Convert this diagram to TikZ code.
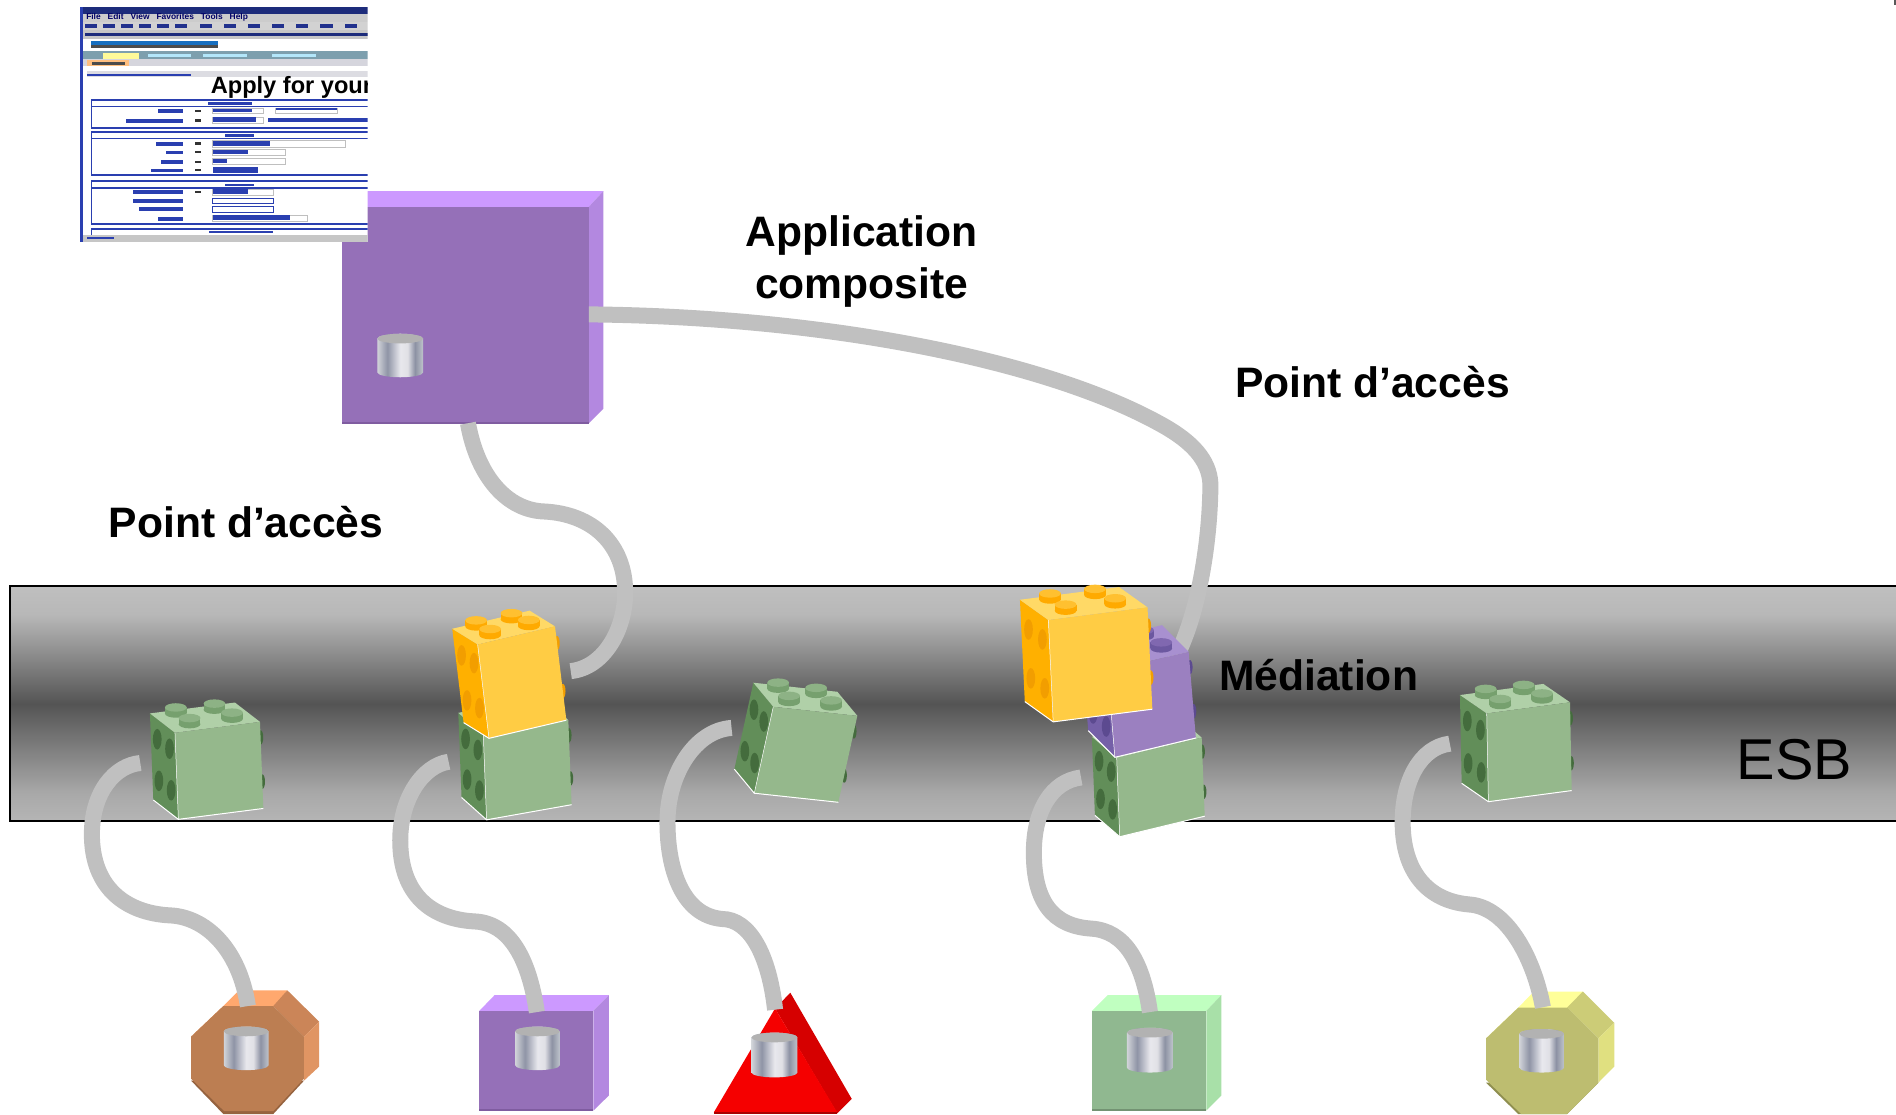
\documentclass[tikz,border=0pt]{standalone}
\usepackage{fontspec}
\setmainfont{Liberation Sans}
\usetikzlibrary{calc}
\pgfdeclareverticalshading{esbshade}{100bp}{rgb(0bp)=(.71,.71,.71); rgb(25bp)=(.71,.71,.71); rgb(31bp)=(.66,.66,.66); rgb(50bp)=(.33,.33,.33); rgb(62bp)=(.58,.58,.58); rgb(69bp)=(.72,.72,.72); rgb(75bp)=(.75,.75,.75); rgb(100bp)=(.75,.75,.75)}
\pgfdeclarehorizontalshading{cylshade}{100bp}{rgb(0bp)=(.82,.83,.85); rgb(25bp)=(.82,.83,.85); rgb(36bp)=(.56,.58,.65); rgb(50bp)=(.91,.91,.93); rgb(58bp)=(.88,.88,.90); rgb(66bp)=(.55,.57,.64); rgb(75bp)=(.75,.77,.80); rgb(100bp)=(.75,.77,.80)}
\definecolor{gfront}{HTML}{95B88C}\definecolor{gleft}{HTML}{628E59}\definecolor{gtop}{HTML}{B0D0A8}\definecolor{ghole}{HTML}{446C3D}\definecolor{gstud}{HTML}{8DB285}\definecolor{gside}{HTML}{76A06E}
\definecolor{yfront}{HTML}{FFCC44}\definecolor{yleft}{HTML}{FFB000}\definecolor{ytop}{HTML}{FFD966}\definecolor{yhole}{HTML}{F29E00}\definecolor{ystud}{HTML}{FFC030}\definecolor{yside}{HTML}{FFAA00}
\definecolor{pfront}{HTML}{9B80C0}\definecolor{pleft}{HTML}{7560A8}\definecolor{ptop}{HTML}{A890D0}\definecolor{phole}{HTML}{5C4A90}\definecolor{pstud}{HTML}{8068B0}\definecolor{pside}{HTML}{6C58A0}
\definecolor{linkgrey}{HTML}{C0C0C0}
\definecolor{webblue}{HTML}{2A3FB0}
\tikzset{
  link/.style={draw=linkgrey,line width=8pt,line cap=butt},
  boldlabel/.style={font=\fontsize{21.3}{26}\selectfont\bfseries,align=center,inner sep=0pt},
  esblabel/.style={font=\fontsize{28.8}{32}\selectfont,inner sep=0pt},
  webline/.style={draw=webblue,line width=.9pt},
  webbox/.style={draw=lightgray,fill=white,line width=.4pt},
}
% brick: colour prefix, F1, F2, F4, L1
\newcommand{\legobrick}[9]{%
  \coordinate (bA) at (#2,#3);
  \coordinate (bB) at (#4,#5);
  \coordinate (bD) at (#6,#7);
  \coordinate (bL) at (#8,#9);
  \coordinate (bU) at ($(bB)-(bA)$);
  \coordinate (bV) at ($(bD)-(bA)$);
  \coordinate (bW) at ($(bL)-(bA)$);
  \coordinate (bC) at ($(bB)+(bV)$);
  \coordinate (bM) at ($(bL)+(bV)$);
  \coordinate (bK) at ($(bB)+(bW)$);
  \foreach \t in {.18,.69}{\fill[#1hole] ($(bB)+\t*(bV)$) ellipse[x radius=2.2,y radius=6];}
  \fill[#1left] (bA)--(bD)--(bM)--(bL)--cycle;
  \foreach \a in {.25,.74}\foreach \b in {.24,.72}{\fill[#1hole] ($(bA)+\a*(bW)+\b*(bV)$) ellipse[x radius=3.6,y radius=8.5];}
  \fill[#1top] (bA)--(bB)--(bK)--(bL)--cycle;
  \foreach \a/\c in {.26/.85,.70/.80,.26/.30,.76/.30}{
    \coordinate (bS) at ($(bA)+\a*(bU)+\c*(bW)$);
    \fill[#1side] ($(bS)+(-9,0)$) rectangle ($(bS)+(9,-5)$);
    \fill[#1side] (bS) ellipse[x radius=9,y radius=3.5];
    \fill[#1stud] ($(bS)+(0,-5)$) ellipse[x radius=9,y radius=3.5];
  }
  \fill[#1front] (bA)--(bB)--(bC)--(bD)--cycle;
  \draw[white,line width=.25pt] (bA)--(bD);
  \draw[white,line width=.5pt] (bM)--(bD)--(bC);
}
\newcommand{\dbcyl}[4]{% centre x, top y, width, height
  \shade[shading=cylshade] ({#1-#3/2},{#2+4}) -- ({#1-#3/2},{#2+#4-4}) arc[start angle=180,end angle=0,x radius={#3/2},y radius=4] -- ({#1+#3/2},{#2+4}) arc[start angle=0,end angle=-180,x radius={#3/2},y radius=4] -- cycle;
  \shade[left color=gray!60,middle color=gray!22,right color=gray!60] (#1,{#2+4}) ellipse[x radius={#3/2},y radius=4];
}
\begin{document}
\begin{tikzpicture}[x=0.60459pt,y=-0.60459pt]
\useasboundingbox (0,0) rectangle (1568,921.3);
\clip (0,0) rectangle (1568,921.3);
\fill[white] (0,0) rectangle (1568,921.3);
\fill[gray!70!black] (1566.3,0) rectangle (1568,4);
% ESB bar
\shade[shading=esbshade] (8,485) rectangle (1568,679);
\draw[black,line width=1pt] (1568,485) -- (8,485) -- (8,679) -- (1568,679);
% anchor points
\coordinate (compR) at (487,260);
\coordinate (compB) at (387,350);
\coordinate (medA) at (968,552);
\coordinate (medB) at (472,555);
\coordinate (s1) at (116,631);\coordinate (t1) at (205,832);
\coordinate (s2) at (371,630);\coordinate (t2) at (444,837);
\coordinate (s3) at (605,602);\coordinate (t3) at (641,835);
\coordinate (s4) at (894,643);\coordinate (t4) at (951,837);
\coordinate (s5) at (1199,615);\coordinate (t5) at (1276,833);
% brown octagon
\definecolor{bfront}{HTML}{BC7E52}\definecolor{btop}{HTML}{FFA86E}\definecolor{bfacet}{HTML}{CB8558}\definecolor{bright}{HTML}{E09563}\definecolor{bdark}{HTML}{96633F}
\fill[btop] (158,857.3)--(184.7,832)--(197.6,819)--(237.6,819)--(226,834)--(184.7,834)--cycle;
\fill[bfacet] (226,832)--(237.6,819)--(264,845)--(251.4,857.3)--cycle;
\fill[bright] (251.4,857.3)--(264,845)--(264,882)--(251.4,893.7)--cycle;
\fill[bdark] (158,893.7)--(184.7,921.3)--(226,921.3)--(251.4,893.7)--cycle;
\fill[bfront] (184.7,832)--(226,832)--(251.4,857.3)--(251.4,892)--(226,919)--(185.5,919)--(158,892)--(158,857.3)--cycle;
% purple box small
\definecolor{vfront}{HTML}{9570B8}\definecolor{vtop}{HTML}{CC99FF}\definecolor{vright}{HTML}{B388E0}\definecolor{vdark}{HTML}{7F5CA0}
\fill[vtop] (396.4,836)--(409,823)--(503.5,823)--(490.7,836)--cycle;
\fill[vright] (490.7,836)--(503.5,823)--(503.5,906)--(490.7,918.5)--cycle;
\fill[vfront] (396.4,836) rectangle (490.7,918.5);
\fill[vdark] (396.4,917) rectangle (490.7,918.8);
% red triangle
\definecolor{rside}{HTML}{D60000}\definecolor{rfront}{HTML}{F50000}
\fill[rside] (641,834)--(653.6,821)--(704.4,908.8)--(692.4,920.8)--cycle;
\fill[rfront] (641,834)--(692.4,920)--(590.3,920)--cycle;
\fill[rside!80!black] (590.3,919.5) rectangle (692.4,921.3);
% green box
\definecolor{lgfront}{HTML}{90B890}\definecolor{lgtop}{HTML}{C0FFC0}\definecolor{lgright}{HTML}{A8E0A8}
\fill[lgtop] (903,836)--(916,823)--(1010,823)--(997.6,836)--cycle;
\fill[lgright] (997.6,836)--(1010,823)--(1010,906)--(997.6,918.5)--cycle;
\fill[lgfront] (903,836) rectangle (997.6,918.5);
\fill[lgfront!80!black] (903,917) rectangle (997.6,918.8);
% yellow octagon
\definecolor{ofront}{HTML}{BDBD70}\definecolor{otop}{HTML}{FFFF99}\definecolor{ofacet}{HTML}{CCCC77}\definecolor{oright}{HTML}{E0E080}\definecolor{odark}{HTML}{8F8F50}
\fill[otop] (1229,858.7)--(1255.6,833.3)--(1268.6,820)--(1309,820)--(1296,835)--(1255.6,835)--cycle;
\fill[ofacet] (1296,833.3)--(1309,820)--(1335,846)--(1321.8,858.7)--cycle;
\fill[oright] (1321.8,858.7)--(1335,846)--(1335,882)--(1321.8,895.4)--cycle;
\fill[odark] (1229,895.4)--(1255.6,921.3)--(1296,921.3)--(1321.8,895.4)--cycle;
\fill[ofront] (1255.6,833.3)--(1296,833.3)--(1321.8,858.7)--(1321.8,895.4)--(1296,921.3)--(1258,921.3)--(1229,893)--(1229,858.7)--cycle;
% main purple box
\fill[vtop] (283,171)--(304,158)--(499,158)--(487,171)--cycle;
\fill[vright] (487,171)--(499,158)--(499,338)--(487,350)--cycle;
\fill[vfront] (283,171) rectangle (487,350);
\fill[vdark] (283,349) rectangle (487,351);
% connectors
\draw[link] (t1) .. controls (198,785) and (170,758) .. (140,757) .. controls (105,755) and (76,735) .. (76,690) .. controls (76,655) and (95,633) .. (s1);
\draw[link] (t2) .. controls (437,790) and (420,763) .. (392,762) .. controls (357,760) and (331,740) .. (331,695) .. controls (331,660) and (350,633) .. (s2);
\draw[link] (t3) .. controls (636,790) and (620,760) .. (597,760) .. controls (565,757) and (552,720) .. (552,680) .. controls (552,640) and (575,604) .. (s3);
\draw[link] (t4) .. controls (945,795) and (930,770) .. (903,768) .. controls (870,766) and (855,745) .. (855,705) .. controls (855,670) and (870,646) .. (s4);
\draw[link] (t5) .. controls (1268,790) and (1245,750) .. (1215,748) .. controls (1180,745) and (1160,720) .. (1160,680) .. controls (1160,645) and (1175,618) .. (s5);
\draw[link] (compB) .. controls (395,395) and (420,422) .. (450,423) .. controls (490,425) and (517,450) .. (517,490) .. controls (517,520) and (500,552) .. (medB);
\draw[link] (compR) .. controls (690,262) and (870,300) .. (962,352) .. controls (985,365) and (1000,380) .. (1001,400) .. controls (1001,440) and (993,510) .. (medA);
% cylinders
\dbcyl{331}{276}{38}{36}
\dbcyl{203.6}{849}{37}{36}
\dbcyl{444.5}{849}{37}{36}
\dbcyl{640.5}{854}{38}{37}
\dbcyl{951}{850}{38}{37}
\dbcyl{1275}{851}{37}{36}
% bricks
\legobrick{g}{144.7}{606}{215}{597}{147.5}{677.6}{124}{590}
\legobrick{g}{399.7}{608}{470}{595.5}{402.4}{678}{379}{589.5}
\legobrick{y}{395}{533}{459}{518}{404.4}{610.6}{374}{520}
\legobrick{g}{639.5}{584.5}{709}{592}{623.8}{656}{623}{564.6}
\legobrick{g}{923.5}{627}{993.8}{610}{926}{692}{903}{609.3}
\legobrick{p}{916}{555}{983}{539}{922}{626.3}{894}{533}
\legobrick{y}{867}{512.8}{949}{502.3}{871}{597}{843.5}{496}
\legobrick{g}{1229.5}{590}{1298.4}{580.8}{1230.9}{663}{1207.4}{574.8}
% screenshot
\begin{scope}
\clip (66,6) rectangle (304,200);
\fill[white] (66,6) rectangle (304,200);
\fill[webblue!70!black] (66,6) rectangle (304,11.5);
\fill[gray!40] (66,11.5) rectangle (304,18);
\node[anchor=west,inner sep=0pt,font=\fontsize{4.2}{5}\selectfont\bfseries,text=blue!40!black] (menu) at (71,14.7) {File\ \ \ Edit\ \ \ View\ \ \ Favorites\ \ \ Tools\ \ \ Help};
\fill[gray!35] (66,18) rectangle (304,25);
\foreach \x in {70,85,100,115,130,145,165,185,205,225,245,265,285}{\fill[webblue!80!black] (\x,20) rectangle ({\x+10},23);}
\fill[gray!45] (66,25) rectangle (304,32.5);
\fill[webblue!70!black] (70,27.5) rectangle (304,30);
\fill[cyan!50!blue] (75,34) rectangle (180,37);
\fill[black!70] (75,37) rectangle (180,40);
\fill[gray!70!cyan] (68,42) rectangle (304,49);
\fill[yellow!40] (85,44) rectangle (115,49);
\foreach \x in {122,168,225}{\fill[white!70!cyan] (\x,45) rectangle ({\x+36},47);}
\fill[blue!10!gray!30] (68,49) rectangle (304,54.5);
\fill[orange!50] (72,50) rectangle (107,54.5);
\fill[black!70] (76,51) rectangle (103,53.5);
\fill[blue!10!gray!25] (72,59) rectangle (304,64);
\fill[webblue] (72,61.5) rectangle (158,63);
\node[anchor=west,inner sep=0pt,font=\fontsize{11.8}{12}\selectfont\bfseries,text=black] (applyfor) at (174,72.5) {Apply for your};
% sections
\draw[webline] (310,82.5) -- (75.6,82.5) -- (75.6,106) -- (310,106);
\draw[webline] (75.6,88) -- (310,88);
\draw[webline] (310,109) -- (75.6,109) -- (75.6,145) -- (310,145);
\draw[webline] (75.6,114.5) -- (310,114.5);
\draw[webline] (310,150) -- (75.6,150) -- (75.6,185) -- (310,185);
\draw[webline] (75.6,155.5) -- (310,155.5);
\draw[webline] (310,189.5) -- (75.6,189.5) -- (75.6,200);
% labels and fields
\foreach \y/\x in {92/131,100/104,119/129,126/137,134/133,141/125,159/110,166/110,173/115,181/131}{\fill[webblue] (\x,{\y-1.5}) rectangle (151,{\y+1.5});}
\foreach \y in {92,100,119,126,134,141,159}{\fill[black!80] (161,{\y-1.2}) rectangle (166,{\y+.8});}
\draw[webbox] (176,90) rectangle (218,94);\fill[webblue] (176,90) rectangle (208,93);
\draw[webbox] (228,90) rectangle (279,94);\fill[webblue] (228,89.5) rectangle (279,91);
\draw[webbox] (176,97) rectangle (218,102);\fill[webblue] (176,97) rectangle (212,101);
\fill[webblue] (222,98) rectangle (304,101);
\draw[webbox] (176,116.5) rectangle (286,121.5);\fill[webblue] (176,117) rectangle (223,120.5);
\draw[webbox] (176,123.5) rectangle (236,128.5);\fill[webblue] (176,124) rectangle (205,127.5);
\draw[webbox] (176,131) rectangle (236,136);\fill[webblue] (176,131.5) rectangle (188,135);
\fill[webblue] (176,138.5) rectangle (213,143);
\draw[webbox] (176,156.5) rectangle (226,161.5);\fill[webblue] (176,156) rectangle (205,160.5);
\draw[webline,line width=.5pt] (176,164) rectangle (226,168.5);
\draw[webline,line width=.5pt] (176,171) rectangle (226,175.5);
\draw[webbox] (176,178) rectangle (254,183);\fill[webblue] (176,178) rectangle (240,182);
\fill[webblue] (172,84.5) rectangle (208,86.5);
\fill[webblue] (186,111) rectangle (210,113);
\fill[webblue] (186,152) rectangle (210,154);
\fill[webblue] (173,191) rectangle (226,193);
\fill[gray!45] (66,194.5) rectangle (304,200);
\fill[webblue] (72,196) rectangle (94,198);
\fill[webblue] (66,6) rectangle (68.5,200);
\end{scope}
% labels
\node[boldlabel] (appcomp) at (712.5,216) {Application\\composite};
\node[boldlabel] (pa1) at (1135,316) {Point d’accès};
\node[boldlabel] (pa2) at (203.5,432) {Point d’accès};
\node[boldlabel] (med) at (1090.5,558) {Médiation};
\node[esblabel] (esb) at (1484,628) {ESB};
\end{tikzpicture}
\end{document}
